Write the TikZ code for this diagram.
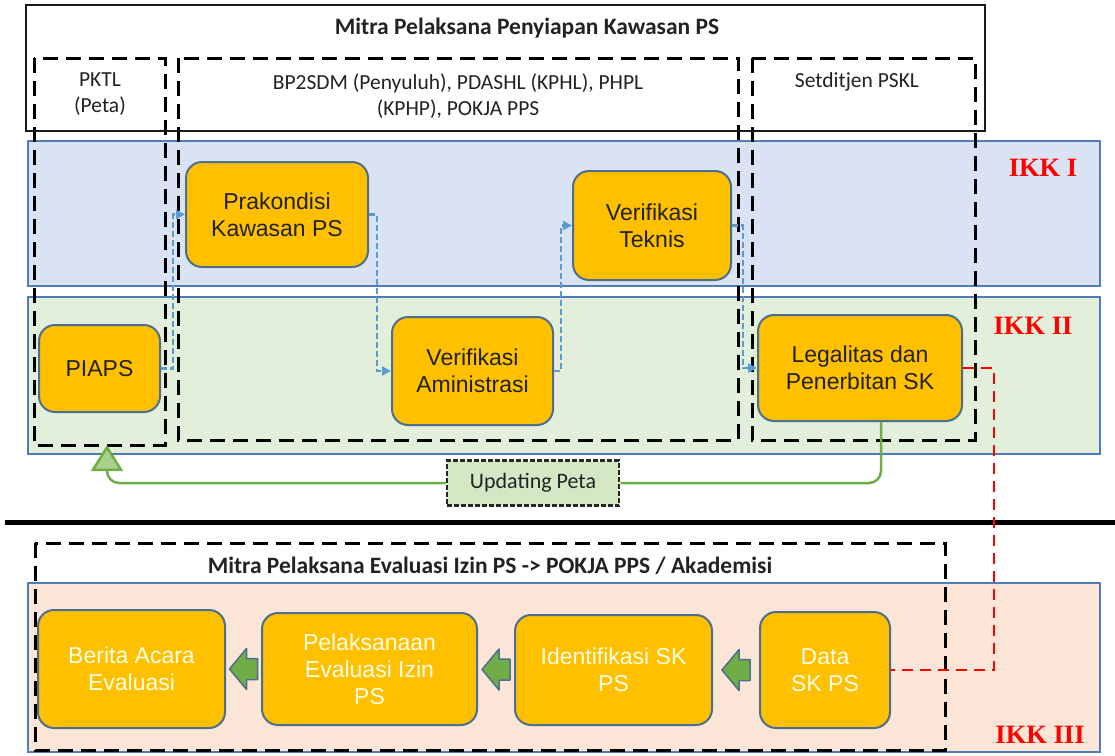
\documentclass[tikz,border=0pt]{standalone}
\usepackage{fontspec}
\setmainfont{Carlito}
\newfontfamily\boxfont{Liberation Sans}
\newfontfamily\ikkfont{Liberation Serif}
\usetikzlibrary{arrows.meta,calc}

\definecolor{procfill}{HTML}{FFC000}
\definecolor{procedge}{HTML}{4E6E8E}
\definecolor{bandedge}{HTML}{4F7DB8}
\definecolor{bandblue}{HTML}{DAE3F3}
\definecolor{bandgreen}{HTML}{E2EFDA}
\definecolor{bandpeach}{HTML}{FBE5D6}
\definecolor{flowblue}{HTML}{5B9BD5}
\definecolor{loopgreen}{HTML}{70AD47}
\definecolor{loopfill}{HTML}{A9D18E}
\definecolor{tagfill}{HTML}{D5E8C6}
\definecolor{ikkred}{HTML}{FF0000}
\definecolor{paletext}{HTML}{FFFFE8}
\definecolor{inktext}{HTML}{222222}

\tikzset{
  leftblock/.pic={
    \draw[draw=procedge, line width=1.5pt, fill=loopgreen, line join=round]
      (-14,0) -- (3,-20.5) -- (3,-10.5) -- (14,-10.5) -- (14,10.5)
      -- (3,10.5) -- (3,20.5) -- cycle;
  }
}

\begin{document}
\begin{tikzpicture}[x=1pt, y=-1pt,
  band/.style={draw=bandedge, line width=2pt},
  column/.style={draw=black, line width=3pt, dash pattern=on 15pt off 8pt},
  head/.style={inner sep=0pt, align=center, text=inktext, font=\fontsize{21.5}{26}\selectfont},
  headtitle/.style={head, font=\bfseries\fontsize{23.5}{26}\selectfont},
  proc/.style={draw=procedge, line width=2pt, fill=procfill, rounded corners=16pt,
    align=center, inner sep=0pt, text=inktext, font=\boxfont\fontsize{23}{27}\selectfont},
  evalbox/.style={proc, text=paletext},
  flow/.style={draw=flowblue, line width=2.2pt, dash pattern=on 6pt off 3pt,
    -{Triangle[length=9pt, width=9pt]}},
  feed/.style={draw=ikkred, line width=2.4pt, dash pattern=on 11pt off 7pt},
  loopline/.style={draw=loopgreen, line width=2.5pt, rounded corners=12pt},
  tag/.style={draw=black!85, fill=tagfill, line width=2.5pt, dash pattern=on 5pt off 2pt,
    inner sep=0pt, text=inktext, font=\fontsize{22}{24}\selectfont},
  ikk/.style={text=ikkred, inner sep=0pt, font=\ikkfont\bfseries\fontsize{26.5}{28}\selectfont}
]
\useasboundingbox (0,0) rectangle (1115,755);

% indicator bands
\path[band, fill=bandblue]  (28,141) rectangle (1100,286);
\path[band, fill=bandgreen] (28,297) rectangle (1100,454);
\path[band, fill=bandpeach] (28,583) rectangle (1100,752);

% partner columns and header frame
\draw[column] (34,58) rectangle (165,445);
\draw[column] (178,58) rectangle (738,440);
\draw[column] (752,58) rectangle (975,440);
\draw[line width=2pt, draw=black!90] (26,5) rectangle (985,131);

\node[headtitle] (ttl) at (527,28) {Mitra Pelaksana Penyiapan Kawasan PS};
\node[head] (pktl) at (100,94) {PKTL\\(Peta)};
\node[head] (bp) at (458,96) {BP2SDM (Penyuluh), PDASHL (KPHL), PHPL\\(KPHP), POKJA PPS};
\node[head] (sdj) at (857,82) {Setditjen PSKL};

% process steps, IKK I and IKK II
\node[proc, minimum width=182pt, minimum height=105pt] (prak) at (277,214.5) {Prakondisi\\Kawasan PS};
\node[proc, minimum width=158pt, minimum height=109pt] (vtek) at (652,225.5) {Verifikasi\\Teknis};
\node[proc, minimum width=121pt, minimum height=87pt] (piaps) at (99.5,368.5) {PIAPS};
\node[proc, minimum width=161pt, minimum height=108pt] (vadm) at (472.5,371) {Verifikasi\\Aministrasi};
\node[proc, minimum width=204pt, minimum height=106pt] (legal) at (860,368) {Legalitas dan\\Penerbitan SK};

\draw[flow] (piaps.east) -- ++(12,0) |- (prak.west);
\draw[flow] (prak.east) -- ++(8,0) |- (vadm.west);
\draw[flow] (vadm.east) -- ++(7,0) |- (vtek.west);
\draw[flow] (vtek.east) -- ++(11,0) |- (legal.west);

% map update loop
\node[tag, minimum width=172pt, minimum height=45pt] (upd) at (533,483) {Updating Peta};
\coordinate (fb) at (107,445);
\draw[loopline] ([xshift=21pt]legal.south) |- (upd.east);
\draw[loopline, -{Triangle[length=26pt, width=32pt, fill=loopfill]}] (upd.west) -| (fb);

% section divider
\draw[line width=5pt] (5,522) -- (1115,522);

% evaluation section
\draw[column] (35,543) rectangle (945,750);
\node[headtitle] (ttl2) at (490,566) {Mitra Pelaksana Evaluasi Izin PS -> POKJA PPS / Akademisi};

\node[evalbox, minimum width=187pt, minimum height=118pt] (berita) at (131.5,669) {Berita Acara\\Evaluasi};
\node[evalbox, minimum width=215pt, minimum height=112pt] (pelak) at (369.5,669) {Pelaksanaan\\Evaluasi Izin\\PS};
\node[evalbox, minimum width=197pt, minimum height=110pt] (ident) at (613.5,670) {Identifikasi SK\\PS};
\node[evalbox, minimum width=130pt, minimum height=116pt] (data) at (825,670) {Data\\SK PS};

\pic at ($(berita.east)!0.5!(pelak.west)$) {leftblock};
\pic at ($(pelak.east)!0.5!(ident.west)$) {leftblock};
\pic at ($(ident.east)!0.5!(data.west)$) {leftblock};

\draw[feed] (legal.east) -- ++(31,0) |- (data.east);

% indicator labels
\node[ikk] (ikk1) at (1043,168) {IKK I};
\node[ikk] (ikk2) at (1033,326) {IKK II};
\node[ikk] (ikk3) at (1040,735) {IKK III};
\end{tikzpicture}
\end{document}
